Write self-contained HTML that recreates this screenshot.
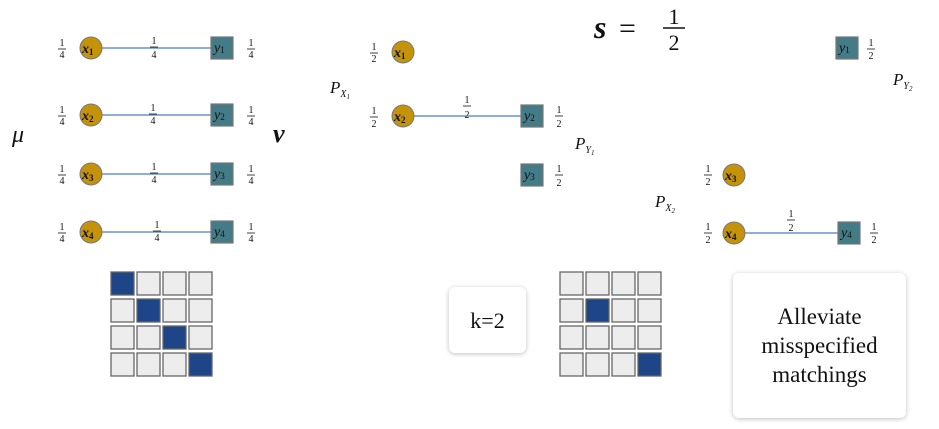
<!DOCTYPE html>
<html><head><meta charset="utf-8"><style>
body{margin:0;background:#fff;width:939px;height:429px;overflow:hidden;position:relative;font-family:"Liberation Serif",serif}
.card{position:absolute;background:#fff;border-radius:6px;box-shadow:0 1px 5px rgba(0,0,0,.25);display:flex;align-items:center;justify-content:center;text-align:center;font-size:23px;line-height:29px;color:#111}
</style></head><body>
<svg width="939" height="429" style="position:absolute;left:0;top:0" font-family="Liberation Serif, serif">
<defs>
<style>
.c{fill:#c4930a;stroke:#777;stroke-width:1}
.s{fill:#437b86;stroke:#777;stroke-width:1.2}
.fr{font-size:10px;text-anchor:middle;fill:#111}
.nl{font-size:14px;font-style:italic;font-weight:bold;fill:#111}
.yl{font-size:14px;font-style:italic;fill:#111}
.sub{font-size:9px;font-style:normal}
.big{font-style:italic;font-size:20px;fill:#111}
</style>
</defs>
<g stroke="#4a7cc4" stroke-width="1.3">
<line x1="102" y1="48" x2="211" y2="48"/>
<line x1="102" y1="115" x2="211" y2="115"/>
<line x1="102" y1="174" x2="211" y2="174"/>
<line x1="102" y1="232" x2="211" y2="232"/>
<line x1="414" y1="116" x2="521" y2="116"/>
<line x1="745" y1="233" x2="838" y2="233"/>
</g>
<g class="c">
<circle cx="91" cy="48" r="11"/><circle cx="91" cy="115" r="11"/><circle cx="91" cy="174" r="11"/><circle cx="91" cy="232" r="11"/>
<circle cx="403" cy="52" r="11"/><circle cx="403" cy="116" r="11"/>
<circle cx="734" cy="175" r="11"/><circle cx="734" cy="233" r="11"/>
</g>
<g class="s">
<rect x="211" y="37" width="22" height="22"/><rect x="211" y="104" width="22" height="22"/><rect x="211" y="163" width="22" height="22"/><rect x="211" y="221" width="22" height="22"/>
<rect x="521" y="105" width="22" height="22"/><rect x="521" y="164" width="22" height="22"/>
<rect x="836" y="37" width="22" height="22"/><rect x="838" y="222" width="22" height="22"/>
</g>
<g class="nl">
<text x="82" y="53">x<tspan class="sub" dy="2">1</tspan></text>
<text x="82" y="120">x<tspan class="sub" dy="2">2</tspan></text>
<text x="82" y="179">x<tspan class="sub" dy="2">3</tspan></text>
<text x="82" y="237">x<tspan class="sub" dy="2">4</tspan></text>
<text x="394" y="57">x<tspan class="sub" dy="2">1</tspan></text>
<text x="394" y="121">x<tspan class="sub" dy="2">2</tspan></text>
<text x="725" y="180">x<tspan class="sub" dy="2">3</tspan></text>
<text x="725" y="238">x<tspan class="sub" dy="2">4</tspan></text>
</g>
<g class="yl">
<text x="214" y="52">y<tspan class="sub" dy="1">1</tspan></text>
<text x="214" y="119">y<tspan class="sub" dy="1">2</tspan></text>
<text x="214" y="178">y<tspan class="sub" dy="1">3</tspan></text>
<text x="214" y="236">y<tspan class="sub" dy="1">4</tspan></text>
<text x="524" y="120">y<tspan class="sub" dy="1">2</tspan></text>
<text x="524" y="179">y<tspan class="sub" dy="1">3</tspan></text>
<text x="839" y="52">y<tspan class="sub" dy="1">1</tspan></text>
<text x="841" y="237">y<tspan class="sub" dy="1">4</tspan></text>
</g>
<g class="fr">
<text x="62" y="46">1</text><line x1="58" y1="49" x2="66" y2="49" stroke="#111" stroke-width=".8"/><text x="62" y="58">4</text>
<text x="62" y="113">1</text><line x1="58" y1="116" x2="66" y2="116" stroke="#111" stroke-width=".8"/><text x="62" y="125">4</text>
<text x="62" y="172">1</text><line x1="58" y1="175" x2="66" y2="175" stroke="#111" stroke-width=".8"/><text x="62" y="184">4</text>
<text x="62" y="230">1</text><line x1="58" y1="233" x2="66" y2="233" stroke="#111" stroke-width=".8"/><text x="62" y="242">4</text>
<text x="251" y="46">1</text><line x1="247" y1="49" x2="255" y2="49" stroke="#111" stroke-width=".8"/><text x="251" y="58">4</text>
<text x="251" y="113">1</text><line x1="247" y1="116" x2="255" y2="116" stroke="#111" stroke-width=".8"/><text x="251" y="125">4</text>
<text x="251" y="172">1</text><line x1="247" y1="175" x2="255" y2="175" stroke="#111" stroke-width=".8"/><text x="251" y="184">4</text>
<text x="251" y="230">1</text><line x1="247" y1="233" x2="255" y2="233" stroke="#111" stroke-width=".8"/><text x="251" y="242">4</text>
<text x="154" y="44">1</text><line x1="150" y1="47" x2="158" y2="47" stroke="#111" stroke-width=".8"/><text x="154" y="58">4</text>
<text x="153" y="111">1</text><line x1="149" y1="114" x2="157" y2="114" stroke="#111" stroke-width=".8"/><text x="153" y="124">4</text>
<text x="154" y="170">1</text><line x1="150" y1="173" x2="158" y2="173" stroke="#111" stroke-width=".8"/><text x="154" y="183">4</text>
<text x="157" y="228">1</text><line x1="153" y1="231" x2="161" y2="231" stroke="#111" stroke-width=".8"/><text x="157" y="241">4</text>
<text x="374" y="50">1</text><line x1="370" y1="53" x2="378" y2="53" stroke="#111" stroke-width=".8"/><text x="374" y="62">2</text>
<text x="374" y="114">1</text><line x1="370" y1="117" x2="378" y2="117" stroke="#111" stroke-width=".8"/><text x="374" y="127">2</text>
<text x="467" y="103">1</text><line x1="463" y1="106" x2="471" y2="106" stroke="#111" stroke-width=".8"/><text x="467" y="118">2</text>
<text x="559" y="113">1</text><line x1="555" y1="116" x2="563" y2="116" stroke="#111" stroke-width=".8"/><text x="559" y="127">2</text>
<text x="559" y="172">1</text><line x1="555" y1="175" x2="563" y2="175" stroke="#111" stroke-width=".8"/><text x="559" y="186">2</text>
<text x="708" y="172">1</text><line x1="704" y1="175" x2="712" y2="175" stroke="#111" stroke-width=".8"/><text x="708" y="185">2</text>
<text x="708" y="230">1</text><line x1="704" y1="233" x2="712" y2="233" stroke="#111" stroke-width=".8"/><text x="708" y="243">2</text>
<text x="791" y="217">1</text><line x1="787" y1="220" x2="795" y2="220" stroke="#111" stroke-width=".8"/><text x="791" y="231">2</text>
<text x="874" y="230">1</text><line x1="870" y1="233" x2="878" y2="233" stroke="#111" stroke-width=".8"/><text x="874" y="243">2</text>
<text x="871" y="46">1</text><line x1="867" y1="49" x2="875" y2="49" stroke="#111" stroke-width=".8"/><text x="871" y="59">2</text>
</g>
<text x="12" y="142" class="big" style="font-size:24px">μ</text>
<text x="273" y="142" class="big" style="font-size:26px;font-weight:bold">ν</text>
<text x="330" y="93" class="big" style="font-size:17px">P<tspan font-size="10" dy="4">X</tspan><tspan font-size="7" dy="2">1</tspan></text>
<text x="575" y="149" class="big" style="font-size:17px">P<tspan font-size="10" dy="4">Y</tspan><tspan font-size="7" dy="2">1</tspan></text>
<text x="655" y="207" class="big" style="font-size:17px">P<tspan font-size="10" dy="4">X</tspan><tspan font-size="7" dy="2">2</tspan></text>
<text x="893" y="85" class="big" style="font-size:17px">P<tspan font-size="10" dy="4">Y</tspan><tspan font-size="7" dy="2">2</tspan></text>
<text x="594" y="38" style="font-size:32px;font-style:italic;font-weight:bold" fill="#111">s</text>
<text x="619" y="38" style="font-size:30px" fill="#111" textLength="28">=</text>
<text x="674" y="24" style="font-size:22px" text-anchor="middle" fill="#111">1</text>
<line x1="663" y1="28" x2="685" y2="28" stroke="#111" stroke-width="1.6"/>
<text x="674" y="50" style="font-size:22px" text-anchor="middle" fill="#111">2</text>
<g stroke="#666" stroke-width="1.3">
<g fill="#ededed">
<rect x="111" y="272" width="23" height="23" fill="#1d4587"/><rect x="137" y="272" width="23" height="23"/><rect x="163" y="272" width="23" height="23"/><rect x="189" y="272" width="23" height="23"/>
<rect x="111" y="299" width="23" height="23"/><rect x="137" y="299" width="23" height="23" fill="#1d4587"/><rect x="163" y="299" width="23" height="23"/><rect x="189" y="299" width="23" height="23"/>
<rect x="111" y="326" width="23" height="23"/><rect x="137" y="326" width="23" height="23"/><rect x="163" y="326" width="23" height="23" fill="#1d4587"/><rect x="189" y="326" width="23" height="23"/>
<rect x="111" y="353" width="23" height="23"/><rect x="137" y="353" width="23" height="23"/><rect x="163" y="353" width="23" height="23"/><rect x="189" y="353" width="23" height="23" fill="#1d4587"/>
</g>
<g fill="#ededed">
<rect x="560" y="272" width="23" height="23"/><rect x="586" y="272" width="23" height="23"/><rect x="612" y="272" width="23" height="23"/><rect x="638" y="272" width="23" height="23"/>
<rect x="560" y="299" width="23" height="23"/><rect x="586" y="299" width="23" height="23" fill="#1d4587"/><rect x="612" y="299" width="23" height="23"/><rect x="638" y="299" width="23" height="23"/>
<rect x="560" y="326" width="23" height="23"/><rect x="586" y="326" width="23" height="23"/><rect x="612" y="326" width="23" height="23"/><rect x="638" y="326" width="23" height="23"/>
<rect x="560" y="353" width="23" height="23"/><rect x="586" y="353" width="23" height="23"/><rect x="612" y="353" width="23" height="23"/><rect x="638" y="353" width="23" height="23" fill="#1d4587"/>
</g>
</g>
</svg>
<div class="card" style="left:449px;top:287px;width:77px;height:66px;font-size:22px">k=2</div>
<div class="card" style="left:733px;top:273px;width:173px;height:145px">Alleviate<br>misspecified<br>matchings</div>
</body></html>
